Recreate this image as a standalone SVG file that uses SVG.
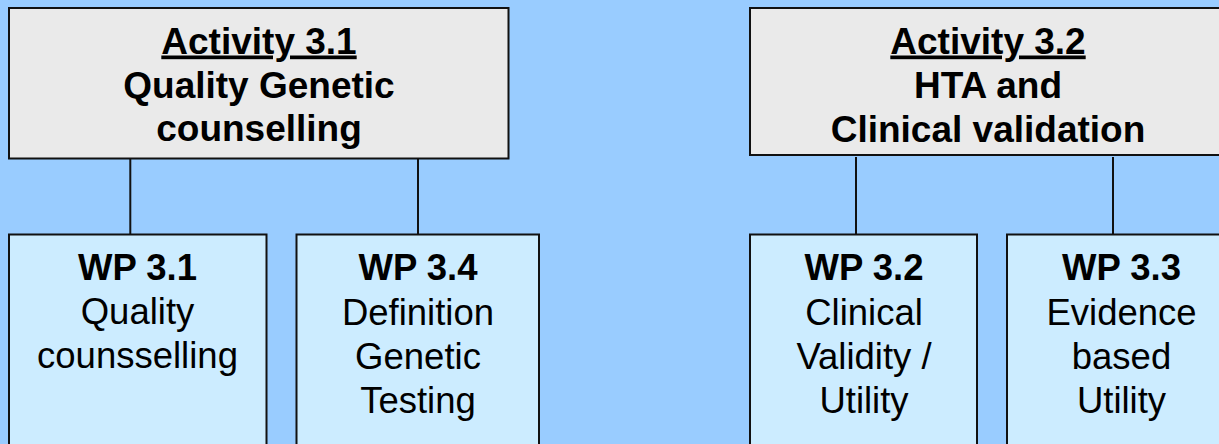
<svg xmlns="http://www.w3.org/2000/svg" width="1219" height="444" viewBox="0 0 1219 444">
  <style>
    .activity { fill: #eaeaea; stroke: #111; stroke-width: 2; }
    .wp { fill: #ccecff; stroke: #111; stroke-width: 2; }
    .link { stroke: #111; stroke-width: 2; fill: none; }
    text { font-family: "Liberation Sans", Arial, sans-serif; fill: #000; text-anchor: middle; }
    .head { font-size: 37px; font-weight: bold; }
    .wptitle { font-size: 36.5px; font-weight: bold; }
    .wpbody { font-size: 36.5px; }
    .ul { text-decoration: underline; }
  </style>

  <!-- background -->
  <rect x="0" y="0" width="1219" height="444" fill="#99ccff"/>

  <!-- connectors from activities to work packages -->
  <g id="connectors">
    <line class="link" x1="130.3" y1="158" x2="130.3" y2="234"/>
    <line class="link" x1="418" y1="158" x2="418" y2="234"/>
    <line class="link" x1="856" y1="157" x2="856" y2="234"/>
    <line class="link" x1="1113" y1="157" x2="1113" y2="234"/>
  </g>

  <g id="activity-3-1">
    <rect class="activity" x="9" y="8" width="499.5" height="150.5"/>
    <text class="head ul" x="259" y="53.5">Activity 3.1</text>
    <text class="head" x="259" y="97.5">Quality Genetic</text>
    <text class="head" x="259" y="141">counselling</text>
  </g>

  <g id="activity-3-2">
    <rect class="activity" x="750" y="8" width="480" height="147"/>
    <text class="head ul" x="988" y="53.5">Activity 3.2</text>
    <text class="head" x="988" y="98">HTA and</text>
    <text class="head" x="988" y="141.5">Clinical validation</text>
  </g>

  <g id="wp-3-1">
    <rect class="wp" x="9" y="234.5" width="257.5" height="230"/>
    <text class="wptitle" x="137.5" y="280">WP 3.1</text>
    <text class="wpbody" x="137.5" y="324">Quality</text>
    <text class="wpbody" x="137.5" y="368">counsselling</text>
  </g>

  <g id="wp-3-4">
    <rect class="wp" x="296.5" y="234.5" width="242.5" height="230"/>
    <text class="wptitle" x="418" y="280">WP 3.4</text>
    <text class="wpbody" x="418" y="324.5">Definition</text>
    <text class="wpbody" x="418" y="368.5">Genetic</text>
    <text class="wpbody" x="418" y="413">Testing</text>
  </g>

  <g id="wp-3-2">
    <rect class="wp" x="750" y="234.5" width="227" height="230"/>
    <text class="wptitle" x="864" y="280">WP 3.2</text>
    <text class="wpbody" x="864" y="324.5">Clinical</text>
    <text class="wpbody" x="864" y="368.5">Validity /</text>
    <text class="wpbody" x="864" y="413">Utility</text>
  </g>

  <g id="wp-3-3">
    <rect class="wp" x="1007" y="234.5" width="240" height="230"/>
    <text class="wptitle" x="1121.5" y="280">WP 3.3</text>
    <text class="wpbody" x="1121.5" y="324.5">Evidence</text>
    <text class="wpbody" x="1121.5" y="368.5">based</text>
    <text class="wpbody" x="1121.5" y="413">Utility</text>
  </g>
</svg>
